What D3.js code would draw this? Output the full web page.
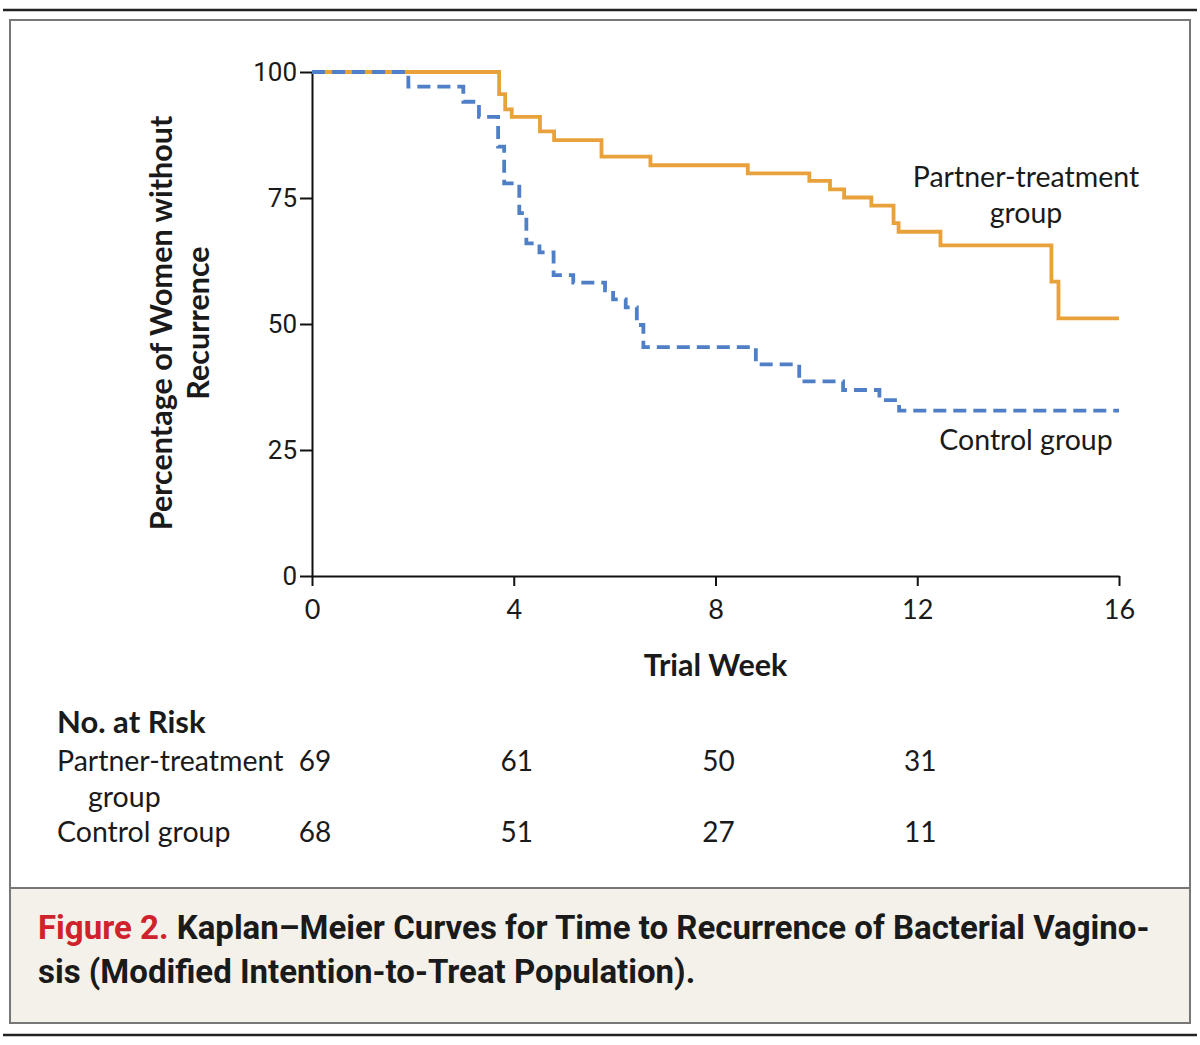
<!DOCTYPE html>
<html lang="en">
<head>
<meta charset="UTF-8">
<title>Kaplan-Meier Curves</title>
<style>
  body { margin: 0; background: #fff; }
  svg text { font-family: Lato, "Open Sans", sans-serif; fill: #1a1a1a; }
</style>
</head>
<body>
<div id="chart"></div>
<script src="https://d3js.org/d3.v7.min.js"></script>
<script>
// survival curves (week, percent without recurrence)
const partnerWeeks = [0, 3.71, 3.83, 3.96, 4.52, 4.80, 5.74, 6.71, 8.64, 9.86, 10.27, 10.55, 11.09, 11.53, 11.63, 12.46, 14.66, 14.80, 16];
const partnerPct   = [100, 95.6, 92.6, 91.1, 88.2, 86.5, 83.2, 81.5, 79.9, 78.4, 76.7, 75.1, 73.5, 70.0, 68.3, 65.6, 58.4, 51.1, 51.1];

const controlWeeks = [0, 1.91, 3.0, 3.31, 3.69, 3.81, 4.11, 4.25, 4.51, 4.79, 5.18, 5.81, 5.97, 6.22, 6.44, 6.57, 8.80, 9.66, 10.53, 11.25, 11.64, 16];
const controlPct   = [100, 97.1, 94.1, 91.1, 85.2, 77.9, 72.0, 66.0, 64.2, 59.7, 58.2, 56.7, 54.9, 53.3, 49.8, 45.4, 42.0, 38.6, 36.9, 34.9, 32.8, 32.8];

const xTicks = [0, 4, 8, 12, 16];
const yTicks = [0, 25, 50, 75, 100];

// number at risk table
const riskWeeks = [0, 4, 8, 12];
const partnerRisk = [69, 61, 50, 31];
const controlRisk = [68, 51, 27, 11];

const W = 1200, H = 1045;
const orange = "#e9a23b", blue = "#4f7fc6";

const svg = d3.select("#chart").append("svg")
  .attr("width", W).attr("height", H);

// frame: rules, white panel, beige caption panel
svg.append("line").attr("x1", 3).attr("x2", 1197).attr("y1", 10).attr("y2", 10)
  .attr("stroke", "#222").attr("stroke-width", 2.5);
svg.append("rect").attr("x", 10).attr("y", 20).attr("width", 1180).attr("height", 868)
  .attr("fill", "#fff").attr("stroke", "#777").attr("stroke-width", 2);
svg.append("rect").attr("x", 10).attr("y", 888).attr("width", 1180).attr("height", 135)
  .attr("fill", "#f4f1eb").attr("stroke", "#777").attr("stroke-width", 2);
svg.append("line").attr("x1", 3).attr("x2", 1197).attr("y1", 1035).attr("y2", 1035)
  .attr("stroke", "#222").attr("stroke-width", 2.5);

const x = d3.scaleLinear().domain([0, 16]).range([312, 1119]);
const y = d3.scaleLinear().domain([0, 100]).range([576, 72]);

// axes
svg.append("g")
  .attr("transform", `translate(0,${y(0)})`)
  .call(d3.axisBottom(x).tickValues(xTicks).tickSize(10).tickPadding(14).tickSizeOuter(0))
  .call(g => g.select(".domain").attr("stroke", "#111").attr("stroke-width", 2))
  .call(g => g.selectAll(".tick line").attr("stroke", "#111").attr("stroke-width", 2))
  .selectAll(".tick text")
  .style("font-family", "Lato, sans-serif").style("font-size", "27px").attr("fill", "#1a1a1a");

svg.append("g")
  .attr("transform", `translate(${x(0)},0)`)
  .call(d3.axisLeft(y).tickValues(yTicks).tickSize(12).tickPadding(3).tickSizeOuter(0))
  .call(g => g.select(".domain").attr("stroke", "#111").attr("stroke-width", 2))
  .call(g => g.selectAll(".tick line").attr("stroke", "#111").attr("stroke-width", 2))
  .selectAll(".tick text")
  .style("font-family", "'Liberation Sans Narrow', 'Arial Narrow', Roboto, sans-serif")
  .style("font-size", "26px").attr("fill", "#1a1a1a");

// axis titles
const yTitle = svg.append("text")
  .attr("transform", "translate(180,323) rotate(-90)")
  .attr("text-anchor", "middle")
  .style("font-size", "30.5px").style("font-weight", "bold");
yTitle.append("tspan").attr("x", 0).attr("dy", "-0.25em").text("Percentage of Women without");
yTitle.append("tspan").attr("x", 0).attr("dy", "1.2em").text("Recurrence");

svg.append("text")
  .attr("x", x(8)).attr("y", 676)
  .attr("text-anchor", "middle")
  .style("font-size", "30.5px").style("font-weight", "bold")
  .text("Trial Week");

// curves
const line = d3.line()
  .x(d => x(d[0]))
  .y(d => y(d[1]))
  .curve(d3.curveStepAfter);

svg.append("path")
  .datum(d3.zip(partnerWeeks, partnerPct))
  .attr("fill", "none")
  .attr("stroke", orange)
  .attr("stroke-width", 3.8)
  .attr("d", line);

svg.append("path")
  .datum(d3.zip(controlWeeks, controlPct))
  .attr("fill", "none")
  .attr("stroke", blue)
  .attr("stroke-width", 3.8)
  .attr("stroke-dasharray", "13 7")
  .attr("d", line);

// curve labels
const lab = svg.append("text").attr("text-anchor", "middle").style("font-size", "28.5px");
lab.append("tspan").attr("x", 1026).attr("y", 187).text("Partner-treatment");
lab.append("tspan").attr("x", 1026).attr("y", 223).text("group");

svg.append("text").attr("x", 1026).attr("y", 450).attr("text-anchor", "middle")
  .style("font-size", "28.5px").text("Control group");

// number at risk
svg.append("text").attr("x", 57).attr("y", 733)
  .style("font-size", "31px").style("font-weight", "bold").text("No. at Risk");
svg.append("text").attr("x", 57).attr("y", 771).style("font-size", "28.5px").text("Partner-treatment");
svg.append("text").attr("x", 88).attr("y", 807).style("font-size", "28.5px").text("group");
svg.append("text").attr("x", 57).attr("y", 842).style("font-size", "28.5px").text("Control group");

svg.selectAll(".riskP")
  .data(d3.zip(riskWeeks, partnerRisk))
  .join("text")
  .attr("x", d => x(d[0]) + 3).attr("y", 771)
  .attr("text-anchor", "middle").style("font-size", "28px")
  .text(d => d[1]);

svg.selectAll(".riskC")
  .data(d3.zip(riskWeeks, controlRisk))
  .join("text")
  .attr("x", d => x(d[0]) + 3).attr("y", 842)
  .attr("text-anchor", "middle").style("font-size", "28px")
  .text(d => d[1]);

// caption
const cap = svg.append("text")
  .style("font-family", "'Liberation Sans Narrow', 'Arial Narrow', Roboto, sans-serif")
  .style("font-size", "33px").style("font-weight", "bold");
const c1 = cap.append("tspan").attr("x", 38).attr("y", 939);
c1.append("tspan").attr("fill", "#d0222c").text("Figure 2. ");
c1.append("tspan").text("Kaplan\u2013Meier Curves for Time to Recurrence of Bacterial Vagino-");
cap.append("tspan").attr("x", 38).attr("y", 983).text("sis (Modified Intention-to-Treat Population).");
</script>
</body>
</html>
